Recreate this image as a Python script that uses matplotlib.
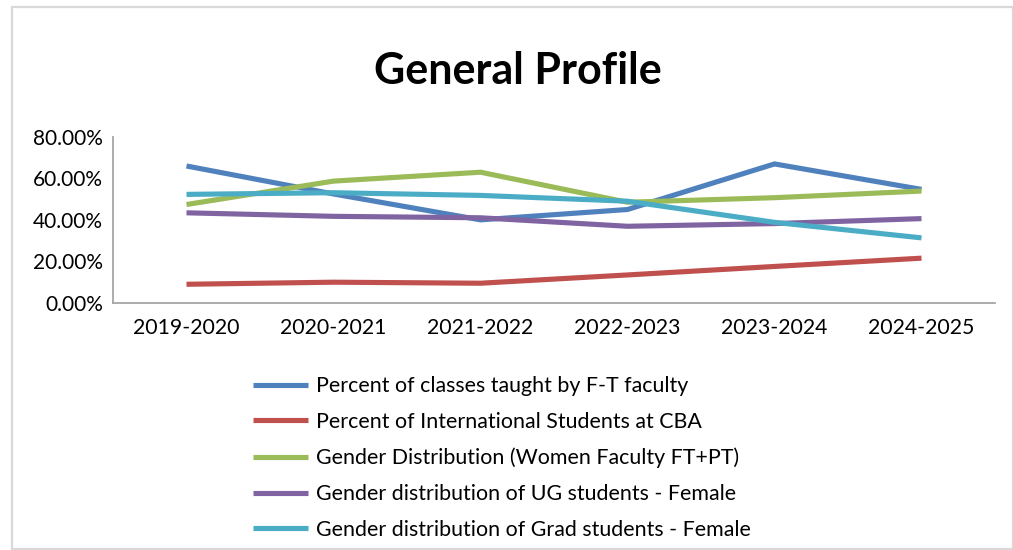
import matplotlib
matplotlib.use("Agg")
import matplotlib.pyplot as plt
from matplotlib.patches import Rectangle
from matplotlib.ticker import FuncFormatter

plt.rcParams['font.family'] = ['Lato', 'DejaVu Sans']

years = ["2019-2020", "2020-2021", "2021-2022", "2022-2023", "2023-2024", "2024-2025"]
pct_ft_classes = [0.66, 0.525, 0.40, 0.45, 0.67, 0.547]
pct_international = [0.089, 0.099, 0.094, 0.134, 0.175, 0.215]
women_faculty = [0.474, 0.587, 0.63, 0.485, 0.507, 0.539]
ug_female = [0.434, 0.417, 0.41, 0.369, 0.382, 0.406]
grad_female = [0.523, 0.531, 0.518, 0.49, 0.388, 0.313]

series = [
    ("Percent of classes taught by F-T faculty", pct_ft_classes, "#4F81BD"),
    ("Percent of International Students at CBA", pct_international, "#C0504D"),
    ("Gender Distribution (Women Faculty FT+PT)", women_faculty, "#9BBB59"),
    ("Gender distribution of UG students - Female", ug_female, "#8064A2"),
    ("Gender distribution of Grad students - Female", grad_female, "#4BACC6"),
]

W, H = 1013, 550
fig = plt.figure(figsize=(W / 100, H / 100), dpi=100)
ax = fig.add_axes([113 / W, 1 - 302.7 / H, (995 - 113) / W, (302.7 - 137) / H])

x = list(range(len(years)))
handles = []
for label, vals, color in series:
    (ln,) = ax.plot(x, vals, color=color, lw=3.7, label=label, solid_capstyle='butt',
                    solid_joinstyle='miter')
    handles.append(ln)

ax.set_xlim(-0.5, len(years) - 0.5)
ax.set_ylim(0, 0.8)
ax.set_yticks([0, 0.2, 0.4, 0.6, 0.8])
ax.yaxis.set_major_formatter(FuncFormatter(lambda v, p: f"{v * 100:.2f}%"))
ax.set_xticks(x)
ax.set_xticklabels(years)
ax.tick_params(axis='both', length=0, labelsize=15, colors='#000000')
ax.tick_params(axis='x', labelsize=15.3)
ax.tick_params(axis='y', pad=7)
ax.tick_params(axis='x', pad=11)
for s in ['top', 'right']:
    ax.spines[s].set_visible(False)
for s in ['left', 'bottom']:
    ax.spines[s].set_color('#a6a6a6')
    ax.spines[s].set_linewidth(1.3)

fig.text(518 / W, 1 - 84 / H, "General Profile", ha='center', va='baseline',
         fontsize=31, fontweight='bold')

leg = fig.legend(handles=handles, loc='upper left',
                 bbox_to_anchor=(253 / W, 1 - 376 / H), frameon=False,
                 fontsize=15.4, handlelength=2.55, handletextpad=0.38,
                 labelspacing=0.74, borderpad=0, borderaxespad=0)

fig.patches.append(Rectangle((12 / W, 1 - 549 / H), (W - 12) / W, (549 - 7) / H,
                             transform=fig.transFigure, fill=False,
                             edgecolor='#d9d9d9', linewidth=1.6))

fig.savefig("out.png", dpi=100)
